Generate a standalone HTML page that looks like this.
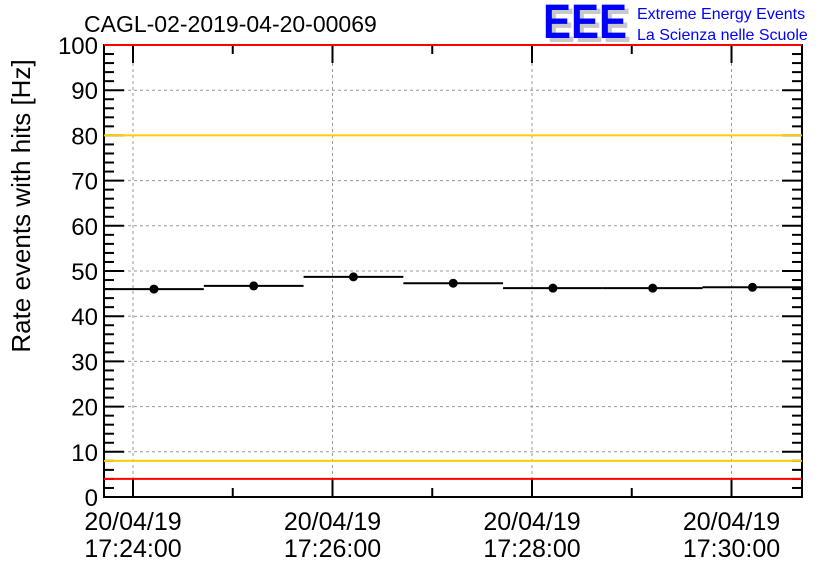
<!DOCTYPE html>
<html><head><meta charset="utf-8"><style>
body{margin:0;background:#fff;width:836px;height:572px;overflow:hidden}
svg{display:block;font-family:"Liberation Sans",sans-serif}
</style></head><body>
<svg id="chart" width="836" height="572">
<rect width="836" height="572" fill="#fff"/>
<text x="84" y="32" font-size="23">CAGL-02-2019-04-20-00069</text>
<g>
<text x="547" y="42" font-size="48" font-weight="bold" fill="#c8c8c8" textLength="84" lengthAdjust="spacingAndGlyphs">EEE</text>
<text x="543" y="38" font-size="48" font-weight="bold" fill="#0000ff" textLength="84" lengthAdjust="spacingAndGlyphs">EEE</text>
<text x="637" y="19" font-size="16" fill="#0000ff">Extreme Energy Events</text>
<text x="637" y="40" font-size="16" fill="#0000ff">La Scienza nelle Scuole</text>
</g>
<text transform="translate(30,206) rotate(-90)" text-anchor="middle" font-size="26">Rate events with hits [Hz]</text>
<g id="grid"></g><g id="axes"></g><g id="marks"></g>
</svg>
<script>
const binLabels=["17:24","17:25","17:26","17:27","17:28","17:29","17:30"];
const rates=[46.0,46.7,48.7,47.3,46.2,46.2,46.4];
const yTicks=[0,10,20,30,40,50,60,70,80,90,100];
const xTickLabels=["17:24:00","17:26:00","17:28:00","17:30:00"];
const xTickMinutes=[0,2,4,6];
const redLimits=[4,100];
const orangeLimits=[8,80];
const L=104,R=802,T=45,B=497,pxPerMin=99.75,x0=133;
const y=v=>B-(v/100)*(B-T);
const x=m=>x0+m*pxPerMin;
const NS="http://www.w3.org/2000/svg";
function mk(parent,tag,attrs){const e=document.createElementNS(NS,tag);for(const k in attrs)e.setAttribute(k,attrs[k]);document.getElementById(parent).appendChild(e);return e;}
yTicks.forEach(v=>{if(v>0&&v<100){const g=mk('grid','line',{x1:L,x2:R,y1:y(v),y2:y(v),stroke:'#999','stroke-dasharray':'3,3','stroke-width':1});

}});
xTickMinutes.forEach(m=>{const g=mk('grid','line',{x1:x(m),x2:x(m),y1:T,y2:B,stroke:'#999','stroke-dasharray':'3,3','stroke-width':1});

});
const fr=mk('axes','rect',{x:L,y:T,width:R-L,height:B-T,fill:'none',stroke:'#000','stroke-width':2});


for(let v=0;v<=100;v+=2){const maj=v%10===0,len=maj?20:10;
mk('axes','line',{x1:L,x2:L+len,y1:y(v),y2:y(v),stroke:'#000','stroke-width':2});
mk('axes','line',{x1:R,x2:R-len,y1:y(v),y2:y(v),stroke:'#000','stroke-width':2});}
yTicks.forEach(v=>{const t=mk('axes','text',{x:L-6,y:y(v)+9,'text-anchor':'end','font-size':24});t.textContent=v;

});
for(let m=-1;m<=7;m++){const px=x(m);if(px<=L+1||px>=R-1)continue;const maj=m%2===0,len=maj?18:9;
mk('axes','line',{x1:px,x2:px,y1:B,y2:B-len,stroke:'#000','stroke-width':2});
mk('axes','line',{x1:px,x2:px,y1:T,y2:T+len,stroke:'#000','stroke-width':2});}
xTickMinutes.forEach((m,i)=>{const t1=mk('axes','text',{x:x(m),y:530,'text-anchor':'middle','font-size':25});t1.textContent="20/04/19";


const t2=mk('axes','text',{x:x(m),y:557,'text-anchor':'middle','font-size':25});t2.textContent=xTickLabels[i];

});
redLimits.forEach(v=>{const l=mk('marks','line',{x1:L,x2:R,y1:y(v),y2:y(v),stroke:'#ff0000','stroke-width':2});

});
orangeLimits.forEach(v=>{const l=mk('marks','line',{x1:L,x2:R,y1:y(v),y2:y(v),stroke:'#ffcc00','stroke-width':2});

});
rates.forEach((r,i)=>{const c=i-0.29+0.5;const xa=Math.max(L,x(c-0.5)),xb=Math.min(R,x(c+0.5));
const l=mk('marks','line',{x1:xa,x2:xb,y1:y(r),y2:y(r),stroke:'#000','stroke-width':2});


const p=mk('marks','circle',{cx:x(c),cy:y(r),r:4.5,fill:'#000'});

});
</script>
</body></html>
